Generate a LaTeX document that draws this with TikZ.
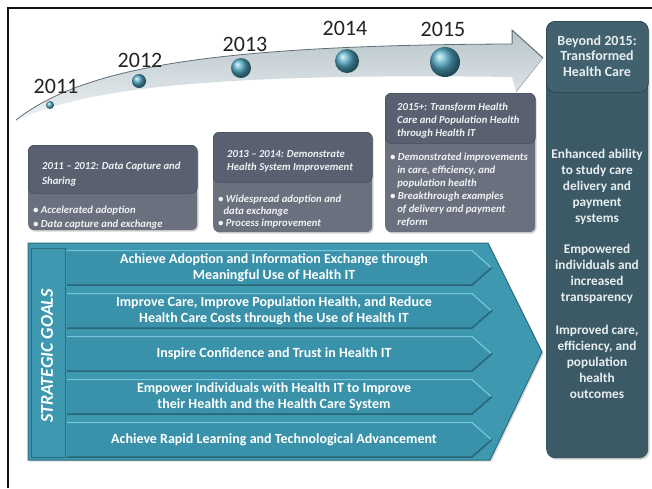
\documentclass[tikz,border=0pt]{standalone}
\usepackage{fontspec}
\setmainfont{Carlito}
\usetikzlibrary{shadows}
\definecolor{frameblk}{HTML}{111111}
\definecolor{bandtop}{HTML}{B7C4CA}
\definecolor{bandbot}{HTML}{EEF2F4}
\definecolor{bandedge}{HTML}{5F6E76}
\definecolor{ballc}{HTML}{4FA6C0}
\definecolor{phasehead}{HTML}{596070}
\definecolor{phasebody}{HTML}{6A707E}
\definecolor{phaseline}{HTML}{474D59}
\definecolor{phasetext}{HTML}{F0F2F4}
\definecolor{goalfill}{HTML}{3E98AF}
\definecolor{goaledge}{HTML}{2B6E80}
\definecolor{barfill}{HTML}{3A92AA}
\definecolor{barlight}{HTML}{78C6D8}
\definecolor{bardark}{HTML}{286575}
\definecolor{panelfill}{HTML}{3B5A66}
\definecolor{panelhead}{HTML}{40616D}
\definecolor{paneltext}{HTML}{E8EEF0}
\definecolor{yeartext}{HTML}{222222}
\tikzset{
  ballnode/.style={circle, shading=ball, ball color=ballc, inner sep=0pt},
  yearlbl/.style={font=\fontsize{22}{24}\selectfont, text=yeartext, inner sep=0pt},
  phasebox/.style={fill=phasebody, rounded corners=6pt, anchor=north west, inner sep=0pt,
     drop shadow={opacity=0.35, shadow xshift=1.5pt, shadow yshift=-1.5pt}},
  phasehd/.style={fill=phasehead, draw=phaseline, line width=0.6pt, rounded corners=6pt, anchor=north west, inner sep=0pt},
  phasetxt/.style={text=phasetext, font=\bfseries\itshape\fontsize{10.7}{13}\selectfont, align=left, anchor=north west, inner sep=0pt},
  goaltxt/.style={text=white, font=\bfseries\fontsize{14}{16}\selectfont, align=center, inner sep=0pt},
  paneltxt/.style={text=paneltext, font=\bfseries\fontsize{13.3}{16}\selectfont, align=center, inner sep=0pt},
}
\begin{document}
\begin{tikzpicture}[x=1pt,y=-1pt]
\useasboundingbox (0,0) rectangle (652,488);
% frame (top and left visible)
\draw[frameblk, line width=2pt] (8,488) -- (8,8) -- (652,8);

% timeline band with arrowhead
\shade[top color=bandtop, bottom color=bandbot]
  (16,120) .. controls (80,70) and (200,45) .. (512,44) -- (512,30) -- (543,58) -- (516,92) -- (512,77)
  .. controls (170,72) and (70,95) .. (16,121) -- cycle;
\draw[bandedge, line width=0.8pt] (16,120) .. controls (80,70) and (200,45) .. (512,44);
\draw[bandedge, line width=1pt] (512,44) -- (512,30) -- (543,58);
\draw[bandtop!80!black, line width=0.5pt] (543,58) -- (516,92);

% spheres
\node[ballnode, minimum size=8pt] (b2011) at (50,105) {};
\node[ballnode, minimum size=14pt] (b2012) at (139,81) {};
\node[ballnode, minimum size=20pt] (b2013) at (241,68) {};
\node[ballnode, minimum size=24pt] (b2014) at (347,61) {};
\node[ballnode, minimum size=30pt] (b2015) at (445,62) {};

% years
\node[yearlbl] (y2011) at (56,86) {2011};
\node[yearlbl] (y2012) at (140,60) {2012};
\node[yearlbl] (y2013) at (245,44) {2013};
\node[yearlbl] (y2014) at (345,28) {2014};
\node[yearlbl] (y2015) at (443,29) {2015};

% phase boxes
\node[phasebox, minimum width=169pt, minimum height=85pt] (p1) at (28,145) {};
\node[phasehd, minimum width=169pt, minimum height=48pt] (p1h) at (28,145) {};
\node[phasetxt, font=\bfseries\itshape\fontsize{10.7}{15}\selectfont] (p1t) at (42,161.5) {2011 – 2012: Data Capture and\\Sharing};
\node[phasetxt, font=\bfseries\itshape\fontsize{10.7}{14}\selectfont] (p1b) at (33,206) {• Accelerated adoption\\• Data capture and exchange};

\node[phasebox, minimum width=159pt, minimum height=100pt] (p2) at (213,132) {};
\node[phasehd, minimum width=159pt, minimum height=50pt] (p2h) at (213,132) {};
\node[phasetxt] (p2t) at (227,150) {2013 – 2014: Demonstrate\\Health System Improvement};
\node[phasetxt, font=\bfseries\itshape\fontsize{10.7}{12}\selectfont] (p2b) at (218,194.5) {• Widespread adoption and\\\phantom{•}data exchange\\• Process improvement};

\node[phasebox, minimum width=150pt, minimum height=139pt] (p3) at (385,93) {};
\node[phasehd, minimum width=150pt, minimum height=50pt] (p3h) at (385,93) {};
\node[phasetxt] (p3t) at (397,102.5) {2015+: Transform Health\\Care and Population Health\\through Health IT};
\node[phasetxt] (p3b) at (390,152.5) {• Demonstrated improvements\\\phantom{•\,}in care, efficiency, and\\\phantom{•\,}population health\\• Breakthrough examples\\\phantom{•\,}of delivery and payment\\\phantom{•\,}reform};

% strategic goals container
\fill[goalfill, drop shadow={opacity=0.3, shadow xshift=1.5pt, shadow yshift=-1.5pt}]
  (28,243) -- (488,243) -- (542,352) -- (490,460) -- (28,460) -- cycle;
\draw[goaledge, line width=1pt] (28,243) -- (488,243) -- (542,352) -- (490,460) -- (28,460) -- cycle;
\draw[goaledge, line width=0.8pt] (31,248) rectangle (65,457);
\node[text=white, font=\bfseries\itshape\fontsize{18}{20}\selectfont, rotate=90, inner sep=0pt] (sg) at (47,356) {STRATEGIC GOALS};

\foreach \t in {250,293,336,379,422} {
  \fill[barfill] (67,\t) -- (472,\t) -- (492,\t+17.5) -- (472,\t+35) -- (67,\t+35) -- cycle;
  \draw[barlight, line width=1.2pt] (67,\t+0.6) -- (472,\t+0.6) -- (491,\t+17.5);
  \draw[bardark, line width=1.5pt] (67,\t+35) -- (472,\t+35) -- (492,\t+17.5);
}
\node[goaltxt] (g1) at (274,268) {Achieve Adoption and Information Exchange through\\Meaningful Use of Health IT};
\node[goaltxt] (g2) at (274,311) {Improve Care, Improve Population Health, and Reduce\\Health Care Costs through the Use of Health IT};
\node[goaltxt] (g3) at (274,354) {Inspire Confidence and Trust in Health IT};
\node[goaltxt] (g4) at (274,397) {Empower Individuals with Health IT to Improve\\their Health and the Health Care System};
\node[goaltxt] (g5) at (274,440) {Achieve Rapid Learning and Technological Advancement};

% right panel
\node[fill=panelfill, rounded corners=9pt, anchor=north west, inner sep=0pt, minimum width=102pt, minimum height=437pt,
  drop shadow={opacity=0.35, shadow xshift=1.5pt, shadow yshift=-1.5pt}] (rp) at (546,21) {};
\node[fill=panelhead, draw=panelfill!70!black, line width=0.6pt, rounded corners=9pt, anchor=north west, inner sep=0pt,
  minimum width=102pt, minimum height=71pt] (rph) at (546,21) {};
\node[paneltxt, font=\bfseries\fontsize{14}{15.5}\selectfont] (rt0) at (597,56) {Beyond 2015:\\Transformed\\Health Care};
\node[paneltxt] (rt1) at (597,187) {Enhanced ability\\to study care\\delivery and\\payment\\systems};
\node[paneltxt] (rt2) at (597,274) {Empowered\\individuals and\\increased\\transparency};
\node[paneltxt] (rt3) at (597,362) {Improved care,\\efficiency, and\\population\\health\\outcomes};
\end{tikzpicture}
\end{document}
